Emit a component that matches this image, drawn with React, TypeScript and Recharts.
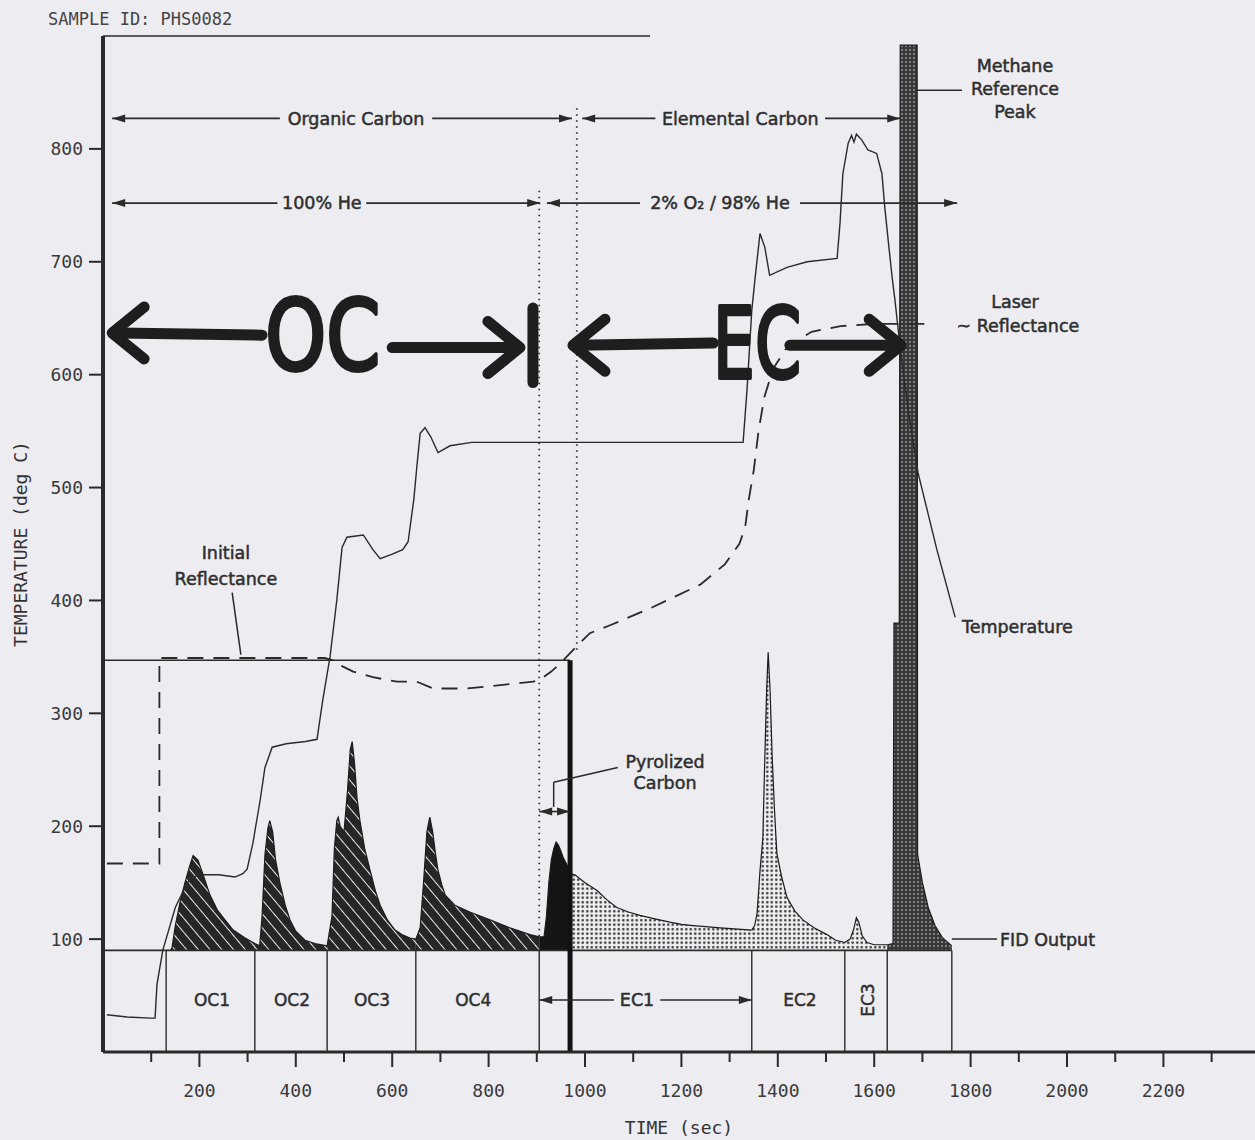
import React from "react";
import { ComposedChart, Line, Area, Scatter, XAxis, YAxis, ReferenceLine } from "recharts";

const INK = "#2a2a2a";
const PAPER = "#ececf1";
const MONO = "'DejaVu Sans Mono', monospace";
const SANS = "'DejaVu Sans', sans-serif";

type Pt = [number, number];
type Seg = [number, number, number, number];

const xTicks = [100, 200, 300, 400, 500, 600, 700, 800, 900, 1000, 1100, 1200, 1300, 1400, 1500, 1600, 1700, 1800, 1900, 2000, 2100, 2200, 2300];
const yTicks = [100, 200, 300, 400, 500, 600, 700, 800];

// oven temperature (deg C) vs time (sec)
const temperature: Pt[] = [
  [8, 33], [50, 31], [100, 30], [108, 30], [112, 60], [124, 90], [150, 128], [175, 150], [197, 157],
  [240, 157], [274, 155], [290, 158], [299, 162], [311, 185], [326, 223], [336, 252], [351, 270],
  [380, 273], [420, 275], [444, 277], [456, 312], [471, 350], [485, 400], [496, 447], [506, 456],
  [540, 458], [560, 445], [575, 437], [600, 441], [622, 445], [633, 452], [645, 490], [651, 518],
  [658, 548], [668, 553], [680, 545], [695, 531], [720, 537], [765, 540], [1000, 540], [1328, 540],
  [1336, 586], [1346, 657], [1353, 686], [1363, 725], [1373, 713], [1383, 688], [1419, 695],
  [1461, 700], [1523, 703], [1529, 734], [1535, 778], [1546, 805], [1553, 812], [1558, 806],
  [1563, 813], [1574, 808], [1587, 799], [1605, 796], [1616, 778], [1622, 748], [1629, 719],
  [1637, 687], [1643, 666], [1655, 620], [1670, 570], [1691, 513], [1730, 445], [1768, 385],
];

// laser reflectance trace (dashed)
const laserReflectance: Pt[] = [
  [8, 167], [117, 167], [117, 349], [460, 349], [477, 347], [495, 342], [519, 337], [560, 332],
  [610, 328], [651, 328], [685, 322], [755, 322], [824, 325], [892, 328], [907, 330], [930, 337],
  [948, 344], [975, 356], [1010, 371], [1052, 378], [1135, 393], [1239, 414], [1290, 432],
  [1320, 450], [1332, 464], [1340, 490], [1350, 515], [1360, 550], [1372, 580], [1390, 605],
  [1420, 625], [1470, 638], [1530, 643], [1600, 645], [1715, 645],
];

// FID output, one list per carbon fraction
const fidOC1: Pt[] = [
  [140, 90], [143, 92], [150, 112], [160, 133], [170, 150], [180, 165], [187, 174], [197, 170],
  [207, 158], [222, 139], [237, 126], [253, 117], [270, 108], [295, 101], [315, 96],
];
const fidOC2: Pt[] = [
  [315, 96], [325, 94], [330, 120], [336, 175], [342, 198], [346, 205], [352, 195], [358, 170],
  [367, 150], [378, 130], [388, 117], [400, 107], [419, 99], [440, 96], [465, 94],
];
const fidOC3: Pt[] = [
  [465, 94], [475, 120], [480, 180], [485, 205], [488, 208], [492, 200], [500, 195], [507, 230],
  [513, 268], [517, 275], [522, 255], [527, 225], [533, 205], [543, 180], [554, 161], [565, 143],
  [575, 130], [590, 117], [606, 108], [620, 104], [637, 101], [649, 100],
];
const fidOC4: Pt[] = [
  [649, 100], [658, 110], [665, 150], [672, 195], [678, 208], [684, 195], [690, 175], [695, 161],
  [703, 148], [710, 139], [730, 130], [761, 124], [803, 117], [844, 110], [886, 104], [905, 102],
];
const fidPyrolized: Pt[] = [
  [905, 102], [915, 102], [920, 120], [925, 150], [930, 170], [935, 180], [940, 186], [945, 183],
  [950, 178], [955, 172], [960, 168], [969, 160],
];
const fidEC1: Pt[] = [
  [969, 158], [979, 157], [1000, 150], [1025, 143], [1045, 135], [1066, 128], [1090, 124],
  [1114, 121], [1145, 118], [1176, 115], [1200, 113], [1224, 112], [1250, 111], [1280, 110],
  [1310, 109], [1346, 108],
];
const fidEC2: Pt[] = [
  [1346, 108], [1352, 112], [1357, 123], [1363, 160], [1369, 190], [1373, 260], [1377, 323],
  [1380, 354], [1384, 320], [1388, 265], [1393, 215], [1398, 176], [1408, 155], [1419, 137],
  [1435, 125], [1452, 117], [1475, 110], [1502, 104], [1520, 99], [1539, 97],
];
const fidEC3: Pt[] = [
  [1539, 97], [1550, 100], [1557, 108], [1563, 119], [1568, 115], [1575, 103], [1585, 97],
  [1600, 95], [1627, 95],
];
const fidMethane: Pt[] = [
  [1627, 95], [1639, 96], [1641, 380], [1652, 380], [1654, 892], [1689, 892], [1690, 175],
  [1700, 150], [1712, 128], [1726, 112], [1742, 101], [1761, 94],
];

// fraction boxes under the FID baseline
const bandDividers = [131, 315, 465, 649, 905, 1346, 1539, 1627, 1761];
const bandLabels = ["OC1", "OC2", "OC3", "OC4", "EC2", "EC3"];
const bandLabelX = [226, 392, 558, 768, 1446, 1587];

// labelled span arrows
const spans = [
  { text: "Organic Carbon", from: 19, to: 973, y: 827, mid: 525, half: 158 },
  { text: "Elemental Carbon", from: 994, to: 1654, y: 827, mid: 1322, half: 176 },
  { text: "100% He", from: 19, to: 907, y: 752, mid: 454, half: 92 },
  { text: "2% O\u2082 / 98% He", from: 921, to: 1772, y: 752, mid: 1280, half: 166 },
  { text: "EC1", from: 905, to: 1346, y: 46, mid: 1108, half: 48 },
  { text: "", from: 905, to: 969, y: 213, mid: 937, half: 0 },
];

const notes = [
  { x: 1892, y: 868, text: "Methane" },
  { x: 1892, y: 848, text: "Reference" },
  { x: 1892, y: 827, text: "Peak" },
  { x: 1892, y: 659, text: "Laser" },
  { x: 1898, y: 638, text: "~ Reflectance" },
  { x: 1782, y: 371, text: "Temperature", anchor: "start" },
  { x: 255, y: 437, text: "Initial" },
  { x: 255, y: 414, text: "Reflectance" },
  { x: 1166, y: 252, text: "Pyrolized" },
  { x: 1166, y: 233, text: "Carbon" },
  { x: 1861, y: 94, text: "FID Output", anchor: "start" },
];

const frame: Seg[] = [
  [0, 900, 1135, 900],
  [0, 90, 1761, 90],
  [0, 347, 969, 347],
];
const dotted: Seg[] = [
  [905, 763, 905, 92],
  [983, 836, 983, 356],
];
const leaders: Seg[] = [
  [1689, 852, 1782, 852],
  [268, 407, 286, 352],
  [1068, 252, 935, 239],
  [935, 239, 935, 217],
  [1761, 100, 1855, 100],
];

// hand-drawn marker overlay
const markerShafts: Seg[] = [
  [31, 637, 330, 635],
  [600, 624, 856, 624],
  [985, 626, 1266, 628],
  [1425, 626, 1646, 626],
  [892, 593, 892, 659],
];
const markerHeads = [
  { x: 19, y: 637, dir: -1 },
  { x: 865, y: 624, dir: 1 },
  { x: 975, y: 626, dir: -1 },
  { x: 1656, y: 626, dir: 1 },
];
const markerWords = [
  { x: 456, y: 604, text: "OC", len: 115 },
  { x: 1357, y: 597, text: "EC", len: 88 },
];

const xy = (pts: Pt[]) => pts.map(([x, y]) => ({ x, y }));

function TimeTick(props: any) {
  const { x, y, payload } = props;
  const v = payload.value as number;
  const major = v % 200 === 0;
  return (
    <g>
      <line x1={x} x2={x} y1={y} y2={y + (major ? 15 : 10)} stroke={INK} strokeWidth={2} />
      {major && (
        <text x={x} y={y + 45} textAnchor="middle" fontFamily={MONO} fontSize={18} fill="#3a3a3a">
          {v}
        </text>
      )}
    </g>
  );
}

const NoteText = (props: any) => {
  const { cx, cy, payload } = props;
  return (
    <text x={cx} y={cy} textAnchor={payload.anchor ?? "middle"} fontFamily={SANS} fontSize={17.5}
      fill="#2f2f2f" stroke="#2f2f2f" strokeWidth={0.5}>
      {payload.text}
    </text>
  );
};

const SpanText = (props: any) => {
  const { cx, cy, payload } = props;
  if (!payload.text) return <g />;
  return (
    <text x={cx} y={cy} dy="0.36em" textAnchor="middle" fontFamily={SANS} fontSize={17.5}
      fill="#2f2f2f" stroke="#2f2f2f" strokeWidth={0.5}>
      {payload.text}
    </text>
  );
};

const Tip = (props: any) => {
  const { cx, cy, payload } = props;
  const d = payload.dir;
  return <polygon points={`${cx},${cy} ${cx - d * 13},${cy - 4} ${cx - d * 13},${cy + 4}`} fill={INK} />;
};

const BandText = (props: any) => {
  const { cx, cy, payload } = props;
  const rot = payload.text === "EC3";
  return (
    <text x={cx} y={cy} dy="0.36em" textAnchor="middle" fontFamily={SANS} fontSize={17}
      fill="#2f2f2f" stroke="#2f2f2f" strokeWidth={0.45}
      transform={rot ? `rotate(-90 ${cx} ${cy})` : undefined}>
      {payload.text}
    </text>
  );
};

const Chevron = (props: any) => {
  const { cx, cy, payload } = props;
  const d = payload.dir;
  return (
    <polyline points={`${cx - d * 32},${cy - 26} ${cx},${cy} ${cx - d * 32},${cy + 26}`} fill="none"
      stroke="#1e1e1e" strokeWidth={11} strokeLinecap="round" strokeLinejoin="round" />
  );
};

const MarkerWord = (props: any) => {
  const { cx, cy, payload } = props;
  return (
    <text x={cx} y={cy} textAnchor="middle" fontFamily={SANS} fontSize={98}
      textLength={payload.len} lengthAdjust="spacingAndGlyphs" fill="#1e1e1e" stroke="#1e1e1e"
      strokeWidth={4} strokeLinejoin="round">
      {payload.text}
    </text>
  );
};

const fidParts = [
  { data: fidOC1, fill: "url(#hatch)" },
  { data: fidOC2, fill: "url(#hatch)" },
  { data: fidOC3, fill: "url(#hatch)" },
  { data: fidOC4, fill: "url(#hatch)" },
  { data: fidPyrolized, fill: "#151515" },
  { data: fidEC1, fill: "url(#dots)" },
  { data: fidEC2, fill: "url(#dots)" },
  { data: fidEC3, fill: "url(#dots)" },
  { data: fidMethane, fill: "url(#darkdots)" },
];

const seg = (s: Seg) => [{ x: s[0], y: s[1] }, { x: s[2], y: s[3] }];

export default function App() {
  const spanLines: Seg[] = [];
  const spanTips: { x: number; y: number; dir: number }[] = [];
  spans.forEach((s) => {
    if (s.text) {
      spanLines.push([s.from, s.y, s.mid - s.half, s.y], [s.mid + s.half, s.y, s.to, s.y]);
    } else {
      spanLines.push([s.from, s.y, s.to, s.y]);
    }
    spanTips.push({ x: s.from, y: s.y, dir: -1 }, { x: s.to, y: s.y, dir: 1 });
  });
  const bandText = bandLabels.map((t, i) => ({ x: bandLabelX[i], y: 46, text: t }));

  return (
    <div style={{ position: "absolute", left: 0, top: 0, width: 1255, height: 1140, background: PAPER }}>
      <div style={{ position: "absolute", left: 48, top: 11, fontFamily: MONO, fontSize: 17, color: "#444", lineHeight: 1 }}>
        SAMPLE ID: PHS0082
      </div>
      <ComposedChart width={1255} height={1140} margin={{ top: 36, right: 0, bottom: 0, left: 0 }}>
        <defs>
          <pattern id="hatch" width="9" height="9" patternUnits="userSpaceOnUse" patternTransform="rotate(-40)">
            <rect width="9" height="9" fill="#262626" />
            <line x1="0" y1="0" x2="0" y2="9" stroke="#e8e8ee" strokeWidth="2" />
          </pattern>
          <pattern id="dots" width="4.5" height="4.5" patternUnits="userSpaceOnUse">
            <rect width="4.5" height="4.5" fill="#eeeef2" />
            <circle cx="2.25" cy="2.25" r="1.25" fill="#3a3a3a" />
          </pattern>
          <pattern id="darkdots" width="4" height="4" patternUnits="userSpaceOnUse">
            <rect width="4" height="4" fill="#383838" />
            <circle cx="2" cy="2" r="0.9" fill="#a0a0a4" />
          </pattern>
        </defs>
        <XAxis type="number" dataKey="x" domain={[0, 2390]} ticks={xTicks} interval={0} height={88}
          tickSize={0} tickMargin={0} tickLine={false} tick={(p: any) => <TimeTick {...p} />}
          axisLine={{ stroke: INK, strokeWidth: 3 }}
          label={{ value: "TIME (sec)", position: "insideBottom", offset: 6, fill: "#333", fontFamily: MONO, fontSize: 18 }} />
        <YAxis type="number" dataKey="y" domain={[0, 900]} ticks={yTicks} interval={0} width={103}
          tickSize={14} tickMargin={6} tickLine={{ stroke: INK, strokeWidth: 2 }}
          axisLine={{ stroke: INK, strokeWidth: 4 }}
          tick={{ fill: "#3a3a3a", fontFamily: MONO, fontSize: 18 }}
          label={{ value: "TEMPERATURE (deg C)", angle: -90, position: "insideLeft", offset: 21,
            fill: "#333", fontFamily: MONO, fontSize: 18, style: { textAnchor: "middle" } }} />

        {fidParts.map((p, i) => (
          <Area key={`fid${i}`} data={xy(p.data)} dataKey="y" type="linear" baseValue={90}
            stroke="#1c1c1c" strokeWidth={1.2} fill={p.fill} fillOpacity={1} isAnimationActive={false} />
        ))}

        {frame.map((s, i) => (
          <ReferenceLine key={`fr${i}`} segment={seg(s)} stroke={INK} strokeWidth={1.6} />
        ))}
        {bandDividers.map((x) => (
          <ReferenceLine key={`bd${x}`} segment={[{ x, y: 0 }, { x, y: 90 }]} stroke={INK} strokeWidth={1.4} />
        ))}
        <ReferenceLine segment={[{ x: 969, y: 0 }, { x: 969, y: 347 }]} stroke="#111" strokeWidth={5} />
        {dotted.map((s, i) => (
          <ReferenceLine key={`dt${i}`} segment={seg(s)} stroke="#333" strokeWidth={1.8} strokeDasharray="1.5 4.5" />
        ))}
        {leaders.map((s, i) => (
          <ReferenceLine key={`ld${i}`} segment={seg(s)} stroke={INK} strokeWidth={1.5} />
        ))}
        {spanLines.map((s, i) => (
          <ReferenceLine key={`sp${i}`} segment={seg(s)} stroke={INK} strokeWidth={1.6} />
        ))}

        <Line data={xy(laserReflectance)} dataKey="y" type="linear" stroke={INK} strokeWidth={1.8}
          strokeDasharray="16 10" dot={false} isAnimationActive={false} />
        <Line data={xy(temperature)} dataKey="y" type="linear" stroke={INK} strokeWidth={1.4}
          dot={false} isAnimationActive={false} />

        <Scatter data={spanTips} shape={Tip} isAnimationActive={false} />
        <Scatter data={spans.map((s) => ({ x: s.mid, y: s.y, text: s.text }))} shape={SpanText} isAnimationActive={false} />
        <Scatter data={notes} shape={NoteText} isAnimationActive={false} />
        <Scatter data={bandText} shape={BandText} isAnimationActive={false} />

        {markerShafts.map((s, i) => (
          <ReferenceLine key={`mk${i}`} segment={seg(s)} stroke="#1e1e1e" strokeWidth={11} strokeLinecap="round" />
        ))}
        <Scatter data={markerHeads} shape={Chevron} isAnimationActive={false} />
        <Scatter data={markerWords} shape={MarkerWord} isAnimationActive={false} />
      </ComposedChart>
    </div>
  );
}
